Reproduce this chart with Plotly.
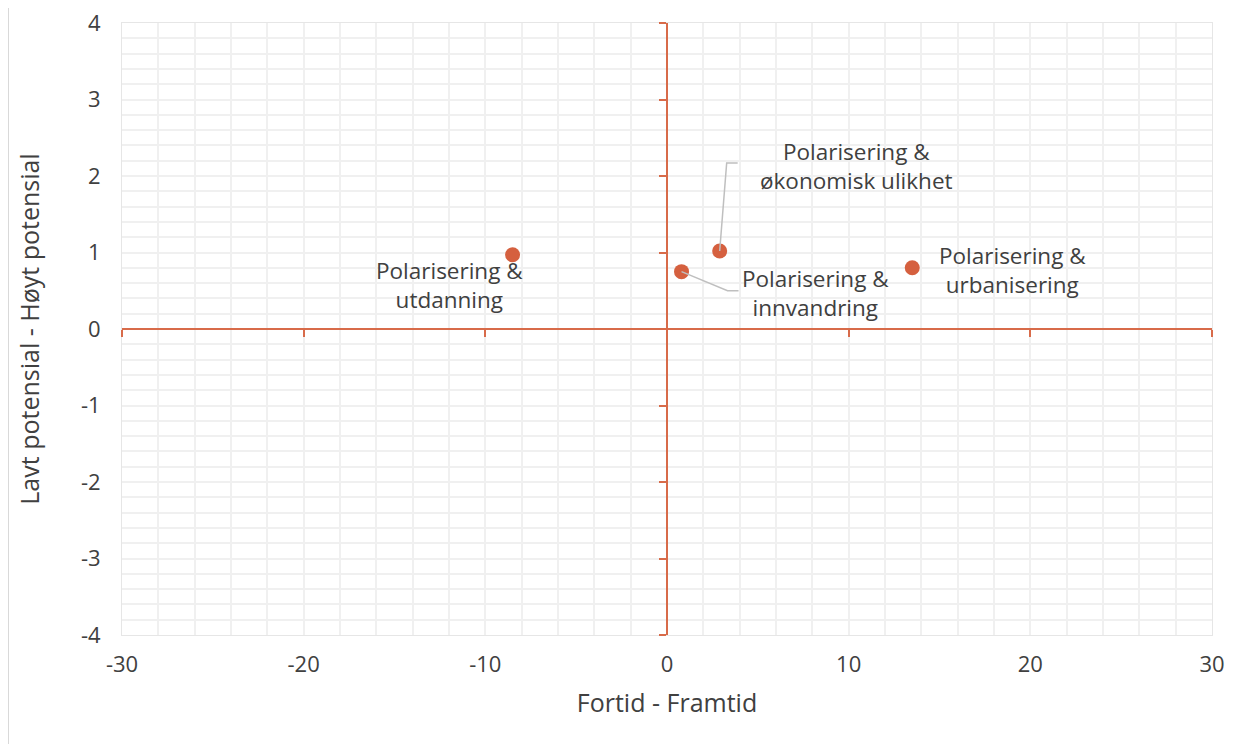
import plotly.graph_objects as go

# Data
labels = ["Polarisering &<br>utdanning", "Polarisering &<br>innvandring",
          "Polarisering &<br>økonomisk ulikhet", "Polarisering &<br>urbanisering"]
x_vals = [-8.5, 0.8, 2.9, 13.5]
y_vals = [0.97, 0.75, 1.02, 0.80]
# label offsets in pixels (dx, dy; dy positive = down)
label_dx = [-63, 134, 137, 100]
label_dy = [30, 21, -85, 2]

x_ticks = [-30, -20, -10, 0, 10, 20, 30]
x_ticktext = ["-30", "-20", "-10", "0", "10", "20", "30"]
y_ticks = [-4, -3, -2, -1, 0, 1, 2, 3, 4]
y_ticktext = ["-4", "-3", "-2", "-1", "0", "1", "2", "3", "4"]
x_title = "Fortid - Framtid"
y_title = "Lavt potensial - Høyt potensial"

FONT = "Open Sans"
TXT = "#404040"
ORANGE = "#D5603F"
AXIS = "#D86B4A"
GRID = "#F0F0F0"

fig = go.Figure()

# invisible trace to activate the crossing axes
fig.add_trace(go.Scatter(x=[x_ticks[0], x_ticks[-1]], y=[y_ticks[0], y_ticks[-1]],
                         xaxis="x2", yaxis="y2", mode="markers",
                         marker=dict(opacity=0), hoverinfo="skip", showlegend=False))

fig.add_trace(go.Scatter(x=x_vals, y=y_vals, mode="markers",
                         marker=dict(size=15, color=ORANGE), showlegend=False,
                         hoverinfo="x+y"))

for i, t in enumerate(labels):
    fig.add_annotation(x=x_vals[i], y=y_vals[i], text=t, showarrow=False,
                       xshift=label_dx[i], yshift=-label_dy[i],
                       font=dict(family=FONT, size=22.5, color=TXT), align="center")

# leader lines (pixel paths anchored at data points)
leader = {1: "M0,0 L46,-19 L57,-19", 2: "M0,0 L7,88 L18,88"}
for i, p in leader.items():
    fig.add_shape(type="path", xref="x", yref="y", xsizemode="pixel", ysizemode="pixel",
                  xanchor=x_vals[i], yanchor=y_vals[i], path=p,
                  line=dict(color="#BFBFBF", width=1.5), layer="above")

W, H = 1245, 736
L, R, T, B = 114, 41, 15, 109
PW, PH = W - L - R, H - T - B

fig.update_layout(
    width=W, height=H,
    margin=dict(l=L, r=R, t=T, b=B, autoexpand=False),
    paper_bgcolor="white", plot_bgcolor="white",
    font=dict(family=FONT, size=22, color=TXT),
    xaxis=dict(range=[x_ticks[0], x_ticks[-1]], tickvals=x_ticks, ticktext=x_ticktext,
               showgrid=True, gridcolor=GRID, gridwidth=1.5, zeroline=False, showline=True,
               linecolor="#E6E6E6", mirror=True, ticks="", ticklabelstandoff=10,
               ticklabeloverflow="allow", automargin=False,
               minor=dict(dtick=2, showgrid=True, gridcolor=GRID, gridwidth=1.5),
               title=dict(text=x_title, standoff=17, font=dict(size=25)),
               tickfont=dict(size=22)),
    yaxis=dict(range=[y_ticks[0], y_ticks[-1]], tickvals=y_ticks, ticktext=y_ticktext,
               showgrid=True, gridcolor=GRID, gridwidth=1.5, zeroline=False, showline=True,
               linecolor="#E6E6E6", mirror=True, ticks="", ticklabelstandoff=16,
               ticklabeloverflow="allow", automargin=False,
               minor=dict(dtick=0.2, showgrid=True, gridcolor=GRID, gridwidth=1.5),
               title=dict(text=y_title, standoff=34, font=dict(size=25)),
               tickfont=dict(size=22)),
    xaxis2=dict(overlaying="x", anchor="free", position=0.5,
                range=[x_ticks[0], x_ticks[-1]], tickvals=x_ticks, showgrid=False,
                zeroline=False, showline=True, linecolor=AXIS, linewidth=1.5,
                ticks="outside", ticklen=7, tickcolor=AXIS, tickwidth=1.5,
                showticklabels=False, automargin=False),
    yaxis2=dict(overlaying="y", anchor="free", position=0.5,
                range=[y_ticks[0], y_ticks[-1]], tickvals=y_ticks, showgrid=False,
                zeroline=False, showline=True, linecolor=AXIS, linewidth=1.5,
                ticks="outside", ticklen=7, tickcolor=AXIS, tickwidth=1.5,
                showticklabels=False, automargin=False),
    shapes=list(fig.layout.shapes) + [dict(type="line", xref="paper", yref="paper",
                                           x0=-L / PW, x1=-L / PW, y0=-B / PH, y1=1 + T / PH,
                                           line=dict(color="#D9D9D9", width=2))],
)

fig.write_html("out.html")
